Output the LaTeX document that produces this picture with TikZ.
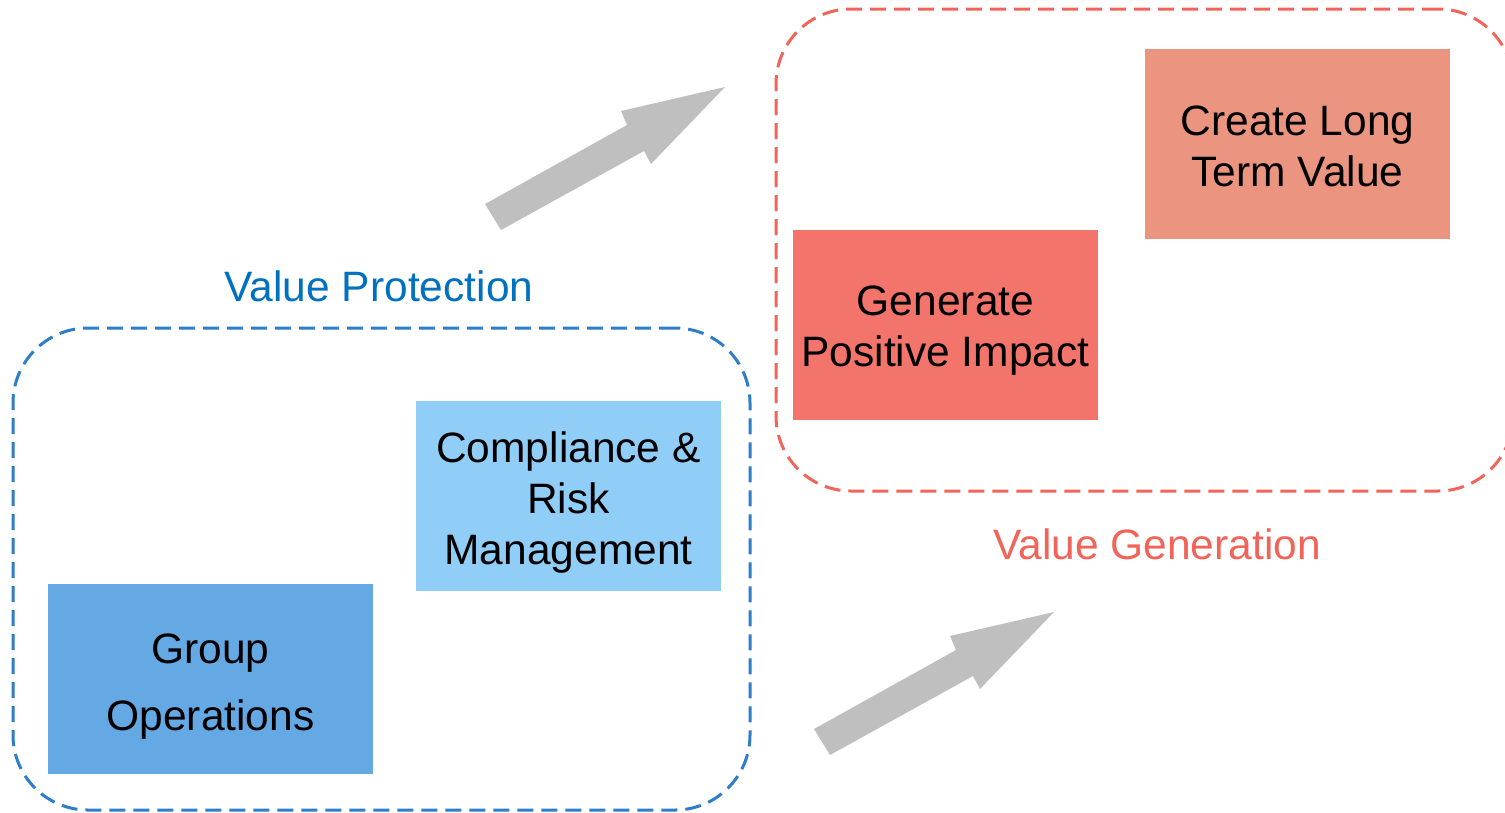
\documentclass[tikz,border=0pt]{standalone}
\usepackage{fontspec}
\setmainfont{Liberation Sans}
\usepackage{tikz}
\usetikzlibrary{calc}
\definecolor{opsblue}{RGB}{100,168,228}
\definecolor{riskblue}{RGB}{144,205,247}
\definecolor{impactred}{RGB}{242,116,106}
\definecolor{valuered}{RGB}{235,149,128}
\definecolor{protectblue}{RGB}{46,125,200}
\definecolor{protecttext}{RGB}{0,112,192}
\definecolor{generatered}{RGB}{240,100,90}
\definecolor{arrowgray}{RGB}{191,191,191}
\newcommand{\grayarrow}[2]{\fill[arrowgray, shift={( #1 , #2 )}] (-240,117) -- (-98,38) -- (-104,24) -- (0,0) -- (-74,77) -- (-81,64) -- (-224,143) -- cycle;}
\newcommand{\topgap}[1][44pt]{\rule{0pt}{#1}}

\begin{document}
\begin{tikzpicture}[x=1pt, y=-1pt,
    every node/.style={font=\fontsize{42.5}{51}\selectfont, inner sep=0pt, outer sep=0pt},
    block/.style={align=center, minimum width=305, minimum height=190},
    frame/.style={draw, dash pattern=on 16pt off 8pt, line width=3pt, rounded corners=75pt, minimum width=737, minimum height=482}]
    \useasboundingbox (0,0) rectangle (1505,812);
    \clip (0,0) rectangle (1505,812);

    \node[frame, protectblue] (protect) at (381.5,569) {};
    \node[frame, generatered] (generate) at (1144.5,250) {};
    \node[text=protecttext] (protectlbl) at (379,286) {Value Protection};
    \node[text=generatered] (generatelbl) at (1157,544) {Value Generation};

    \node[block, fill=opsblue, minimum width=325] (ops) at (210.5,679) {\topgap Group\\[16pt]Operations};
    \node[block, fill=riskblue] (risk) at (568.5,496) {\topgap Compliance \&\\Risk\\Management};
    \node[block, fill=impactred] (impact) at (945.5,324.5) {\topgap[41pt]Generate\\Positive Impact};
    \node[block, fill=valuered] (longterm) at (1297.5,143.5) {\topgap[36pt]Create Long\\Term Value};

    \( \grayarrow{725}{87} \)
    \( \grayarrow{1054}{612} \)
    %\node at (700,400) (x) {};
\end{tikzpicture}
\end{document}
